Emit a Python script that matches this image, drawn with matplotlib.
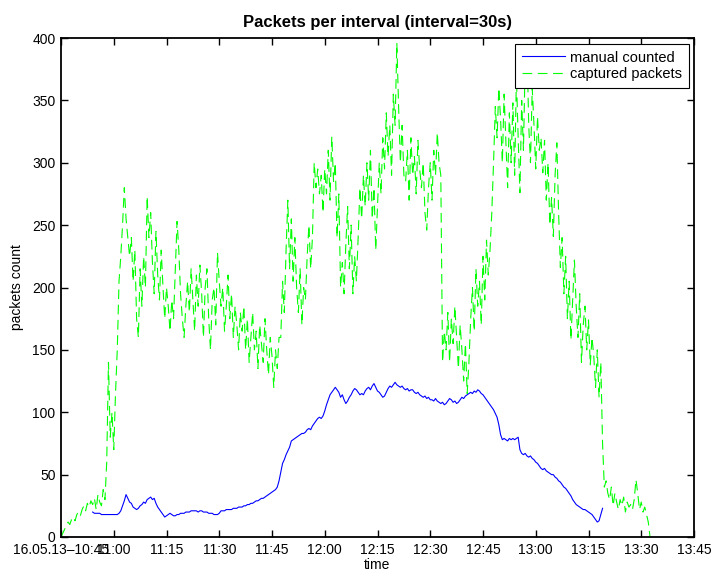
import matplotlib
matplotlib.use('Agg')
import matplotlib.pyplot as plt
import pandas as pd

plt.rcParams['font.family'] = ['Liberation Sans', 'DejaVu Sans']
plt.rcParams['lines.scale_dashes'] = False

# ---- data (30 s intervals) ----
captured_start = '2013-05-16 10:45:00'
manual_start = '2013-05-16 10:54:00'
interval = '30s'

captured_packets = [
    0, 3, 6, 9, 12, 10, 14, 16, 13, 18, 20, 17, 22, 25, 21, 27, 24, 29, 26, 31, 22, 34, 28,
    25, 38, 30, 60, 140, 80, 100, 70, 115, 150, 205, 225, 250, 280,
    255, 240, 225, 240, 205, 230, 175, 160, 215, 185, 225, 200, 273, 240, 260,
    220, 195, 245, 210, 190, 230, 200, 175, 200, 185, 165, 190, 175, 215, 253, 230,
    195, 175, 160, 185, 205, 180, 215, 190, 165, 210, 185, 218, 195, 160, 200, 215, 175,
    150, 190, 200, 170, 228, 205, 185, 200, 165, 185, 210, 175, 195, 160, 185, 170, 150, 180,
    165, 185, 150, 175, 140, 160, 180, 150, 165, 135, 170, 155, 140, 175, 150, 130, 160,
    145, 120, 150, 135, 160,
    160, 205, 180, 230, 270, 215, 255, 205, 240, 200, 180, 215, 170, 200, 190, 225, 250,
    215, 240, 300, 280, 295, 275,
    290, 260, 295, 275, 310, 270, 321, 285, 300,
    240, 275, 200, 220, 195, 235,
    265, 215, 250, 195, 225, 205, 240, 280, 255, 290, 265,
    300, 270, 310, 255, 280, 230, 265, 300, 275, 320, 295, 340, 305, 330, 290, 355, 330,
    396, 345, 300, 330, 290,
    285, 310, 270, 320, 290, 305, 275, 318, 295, 280, 300, 260, 246, 280, 300, 270, 310,
    290, 324, 300, 290,
    140,
    165, 150, 180, 140, 175, 155, 185, 160, 135, 170, 150, 125, 155, 115, 140, 175, 200,
    165, 215, 185, 205, 170, 225, 190, 238, 210, 230,
    260, 300, 345,
    320, 360, 335, 300, 355, 318, 280, 340, 300, 348, 290, 369, 320, 276, 350, 310, 382,
    395, 330, 300, 360, 330, 295, 337, 310,
    320, 292, 318, 270, 300, 250, 272, 241, 290, 316, 260, 216, 240, 195, 225, 175, 205,
    158, 190, 222,
    185, 160, 195, 140, 170, 185, 150, 174, 138, 160, 145, 120, 150, 112, 140,
    75, 40,
    45, 35, 30, 40, 25, 35, 28, 22, 30, 25, 32, 20, 28, 24, 26, 22, 30, 46, 35, 22, 28,
    20, 24, 18, 12, 0,
]

manual_counted = [
    20, 19, 19, 19, 19, 18, 18, 18, 18, 18, 18, 18, 18, 18, 18,
    19, 21, 25, 29, 34, 31, 28, 27, 24, 23, 22, 23, 25, 26, 28, 27, 30, 31, 32, 30,
    31, 27, 24, 22, 20, 18, 16, 17, 18, 19, 18, 17, 17, 18, 18, 19,
    19, 19, 20, 20, 20, 21, 21, 21, 21, 20, 21, 21,
    20, 20, 20, 19, 19, 19, 18, 18, 18, 19,
    21, 21, 21, 22, 22, 22, 22, 23, 23, 23,
    24, 24, 24, 25, 25, 26, 26, 27, 27, 28,
    29, 29, 30, 31, 31, 32, 33, 34, 35, 36,
    37, 38, 40, 45, 52, 59, 62, 66, 69, 72,
    77, 78, 79, 80, 81, 82, 83, 83, 84, 86,
    87, 86, 89, 91, 93, 95, 96, 95, 97, 101,
    106, 110, 114, 116, 118, 120, 118, 116, 112, 114,
    110, 107, 109, 112, 114, 117, 119, 118, 116, 114,
    115, 114, 117, 119, 120, 118, 121, 123, 120, 117,
    116, 114, 112, 113, 116, 119, 121, 120, 122, 124,
    122, 121, 120, 121, 119, 118, 119, 117, 118, 118,
    116, 115, 116, 114, 113, 112, 113, 111, 112, 110,
    110, 109, 111, 109, 108, 107, 108, 106, 107, 109,
    111, 110, 108, 109, 107, 108, 110, 112, 111, 113,
    114, 115, 116, 115, 117, 116, 118, 117, 115, 114,
    112, 110, 108, 106, 104, 102, 99, 96, 90, 82,
    78, 79, 78, 77, 79, 78, 79, 78, 79, 80,
    70, 67, 66, 67, 65, 64, 65, 63, 62, 60,
    59, 57, 55, 54, 55, 53, 52, 51, 50, 50,
    48, 47, 45, 44, 42, 40, 39, 37, 35, 33,
    30, 28, 26, 25, 24, 23, 22, 22, 21, 20,
    19, 18, 16, 14, 12, 13, 18, 23,
]

x_tick_start = '2013-05-16 10:45'
x_tick_end = '2013-05-16 13:45'
x_tick_labels = ['16.05.13\u201310:45', '11:00', '11:15', '11:30', '11:45', '12:00',
                 '12:15', '12:30', '12:45', '13:00', '13:15', '13:30', '13:45']
y_ticks = [0, 50, 100, 150, 200, 250, 300, 350, 400]

# ---- build ----
t_cap = pd.date_range(captured_start, periods=len(captured_packets), freq=interval).to_pydatetime()
t_man = pd.date_range(manual_start, periods=len(manual_counted), freq=interval).to_pydatetime()
tick_times = pd.date_range(x_tick_start, x_tick_end, freq='15min').to_pydatetime()

fig = plt.figure(figsize=(7.13, 5.74), dpi=100)
ax = fig.add_axes([61 / 713, 37 / 574, 633 / 713, 499 / 574])

ax.plot(t_man, manual_counted, color='#0000ff', lw=0.8, label='manual counted')
ax.plot(t_cap, captured_packets, color='#00ff00', lw=0.8, dashes=(7, 4),
        label='captured packets')

ax.set_xlim(tick_times[0], tick_times[-1])
ax.set_ylim(0, 400)
ax.set_xticks(tick_times)
ax.set_xticklabels(x_tick_labels)
ax.set_yticks(y_ticks)
ax.tick_params(direction='in', top=True, right=True, length=5, width=1,
               labelsize=10, pad=4, colors='black')
for s in ax.spines.values():
    s.set_linewidth(1.3)

ax.set_title('Packets per interval (interval=30s)', fontsize=12, fontweight='bold', pad=8)
ax.set_xlabel('time', fontsize=10, labelpad=1)
ax.set_ylabel('packets count', fontsize=10, labelpad=6)

leg = ax.legend(loc='upper right', bbox_to_anchor=(689 / 713, 1 - 44 / 574),
                bbox_transform=fig.transFigure, fancybox=False, edgecolor='black',
                framealpha=1, fontsize=10.5, handlelength=3, borderpad=0.45,
                labelspacing=0.2, handletextpad=0.35, borderaxespad=0)
leg.get_frame().set_linewidth(0.8)

fig.savefig('out.png', dpi=100)
